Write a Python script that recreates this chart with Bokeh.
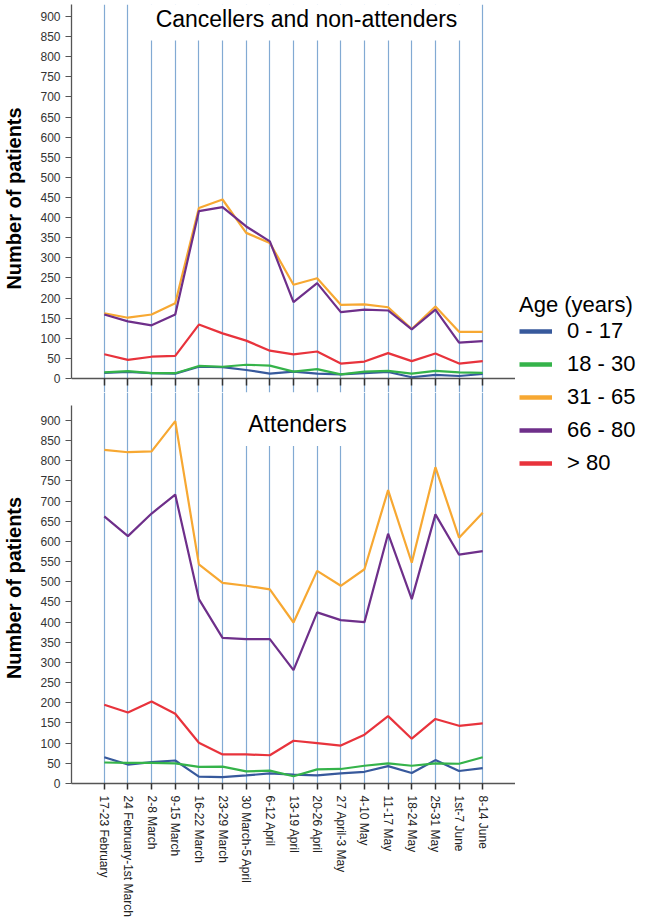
from bokeh.plotting import figure
from bokeh.models import Range1d, FactorRange, FixedTicker, Label, Legend, LegendItem
from bokeh.layouts import row, column
from bokeh.embed import file_html
from bokeh.resources import INLINE

weeks = ["17-23 February", "24 February-1st March", "2-8 March", "9-15 March",
         "16-22 March", "23-29 March", "30 March-5 April", "6-12 April",
         "13-19 April", "20-26 April", "27 April-3 May", "4-10 May",
         "11-17 May", "18-24 May", "25-31 May", "1st-7 June", "8-14 June"]
age_groups = ["0 - 17", "18 - 30", "31 - 65", "66 - 80", "> 80"]
colors = ["#37599C", "#35B34A", "#F7A832", "#6E2F8A", "#E8333C"]

# Cancellers and non-attenders
cancel_0_17 = [14, 16, 13, 12, 29, 28, 21, 12, 17, 12, 10, 13, 16, 3, 9, 6, 11]
cancel_18_30 = [15, 18, 13, 13, 31, 29, 34, 32, 17, 23, 10, 17, 19, 12, 19, 15, 14]
cancel_31_65 = [162, 151, 159, 187, 424, 445, 362, 337, 233, 249, 183, 184, 177, 123, 179, 116, 116]
cancel_66_80 = [159, 142, 132, 159, 416, 426, 378, 341, 190, 237, 165, 171, 169, 122, 171, 89, 93]
cancel_80p = [60, 46, 54, 56, 134, 112, 94, 69, 60, 67, 37, 42, 63, 43, 62, 37, 43]

# Attenders
attend_0_17 = [65, 47, 53, 57, 17, 16, 20, 25, 22, 20, 25, 29, 43, 26, 58, 31, 38]
attend_18_30 = [52, 51, 51, 50, 41, 42, 30, 32, 18, 35, 36, 44, 50, 44, 50, 49, 65]
attend_31_65 = [827, 821, 823, 898, 543, 497, 490, 481, 399, 527, 490, 531, 727, 547, 784, 609, 671]
attend_66_80 = [662, 613, 669, 716, 457, 361, 358, 358, 281, 424, 405, 400, 619, 457, 667, 567, 576]
attend_80p = [195, 176, 203, 173, 101, 72, 72, 70, 106, 100, 94, 121, 167, 111, 160, 143, 149]

y_ticks = list(range(0, 901, 50))

cancel_series = [cancel_0_17, cancel_18_30, cancel_31_65, cancel_66_80, cancel_80p]
attend_series = [attend_0_17, attend_18_30, attend_31_65, attend_66_80, attend_80p]

FONT = "Liberation Sans"
AXIS_COLOR = "#555555"
GRID_COLOR = "#82AAD3"
Y_LABEL = "Number of patients"

x_range = FactorRange(factors=weeks, range_padding=0.886, range_padding_units="absolute")


def style(p, y_top):
    p.background_fill_color = "white"
    p.border_fill_color = "white"
    p.outline_line_color = None
    p.ygrid.grid_line_color = None
    p.xgrid.grid_line_color = GRID_COLOR
    p.xgrid.grid_line_width = 1.2
    ya = p.yaxis[0]
    ya.ticker = FixedTicker(ticks=y_ticks)
    ya.bounds = (0, y_top)
    ya.axis_line_color = AXIS_COLOR
    ya.axis_line_width = 1.3
    ya.major_tick_line_color = AXIS_COLOR
    ya.major_tick_out = 6
    ya.major_tick_in = 0
    ya.minor_tick_line_color = None
    ya.major_label_text_font = FONT
    ya.major_label_text_font_size = "12px"
    ya.major_label_text_color = "#333333"
    ya.major_label_standoff = 5
    ya.axis_label = Y_LABEL
    ya.axis_label_text_font = FONT
    ya.axis_label_text_font_size = "20px"
    ya.axis_label_text_font_style = "bold"
    ya.axis_label_text_color = "black"
    ya.axis_label_standoff = 12
    xa = p.xaxis[0]
    xa.axis_line_color = AXIS_COLOR
    xa.axis_line_width = 1.3
    xa.major_tick_line_color = "#333333"
    xa.major_tick_line_width = 1.5
    xa.major_tick_in = 0
    xa.major_label_text_font = FONT
    xa.major_label_text_color = "#222222"


def draw(p, series):
    for vals, c in zip(series, colors):
        p.line(x=weeks, y=vals, line_color=c, line_width=2.2)


top = figure(width=515, height=392, x_range=x_range, y_range=Range1d(-35, 930),
             output_backend="svg", toolbar_location=None,
             min_border_left=68, min_border_right=0, min_border_top=4, min_border_bottom=0)
style(top, 935)
txa = top.xaxis[0]
txa.fixed_location = 0
txa.major_tick_out = 7
txa.major_label_text_font_size = "0px"
txa.major_label_text_color = None
draw(top, cancel_series)
top.add_layout(Label(x=238, y=374, x_units="screen", y_units="screen",
                     text="Cancellers and non-attenders", text_font=FONT,
                     text_font_size="23px", text_color="black",
                     text_align="center", text_baseline="middle",
                     background_fill_color="white",
                     padding=dict(left=12, right=18, top=9, bottom=9)))

bottom = figure(width=515, height=530, x_range=x_range, y_range=Range1d(0, 969),
                output_backend="svg", toolbar_location=None,
                min_border_left=68, min_border_right=0, min_border_top=0, min_border_bottom=139)
style(bottom, 938)
bottom.xaxis[0].major_label_orientation = "vertical"
bottom.xaxis[0].major_label_text_font_size = "12px"
bottom.xaxis[0].major_tick_out = 6
bottom.xaxis[0].major_label_standoff = 6
draw(bottom, attend_series)
bottom.add_layout(Label(x=225, y=364, x_units="screen", y_units="screen",
                        text="Attenders", text_font=FONT,
                        text_font_size="23px", text_color="black",
                        text_align="center", text_baseline="middle",
                        background_fill_color="white",
                        padding=dict(left=13, right=11, top=18, bottom=9)))

leg = figure(width=126, height=922, output_backend="svg", toolbar_location=None,
             min_border=0, x_range=Range1d(100, 101), y_range=Range1d(5000, 5001))
leg.axis.visible = False
leg.grid.visible = False
leg.outline_line_color = None
items = []
for g, c, vals in zip(age_groups, colors, attend_series):
    r = leg.line(x=list(range(len(vals))), y=vals, line_color=c, line_width=4.5)
    items.append(LegendItem(label=g, renderers=[r]))
legend = Legend(items=items, location=(4, 446), title="Age (years)",
                title_text_font=FONT, title_text_font_size="22px",
                title_text_font_style="normal", title_text_color="black",
                title_standoff=0,
                label_text_font=FONT, label_text_font_size="22px",
                label_text_color="black", glyph_width=33, glyph_height=22,
                label_standoff=15, spacing=7, padding=3, margin=0,
                border_line_color=None, background_fill_alpha=0)
leg.add_layout(legend)

layout = row(column(top, bottom), leg)
open("out.html", "w").write(file_html(layout, INLINE))
